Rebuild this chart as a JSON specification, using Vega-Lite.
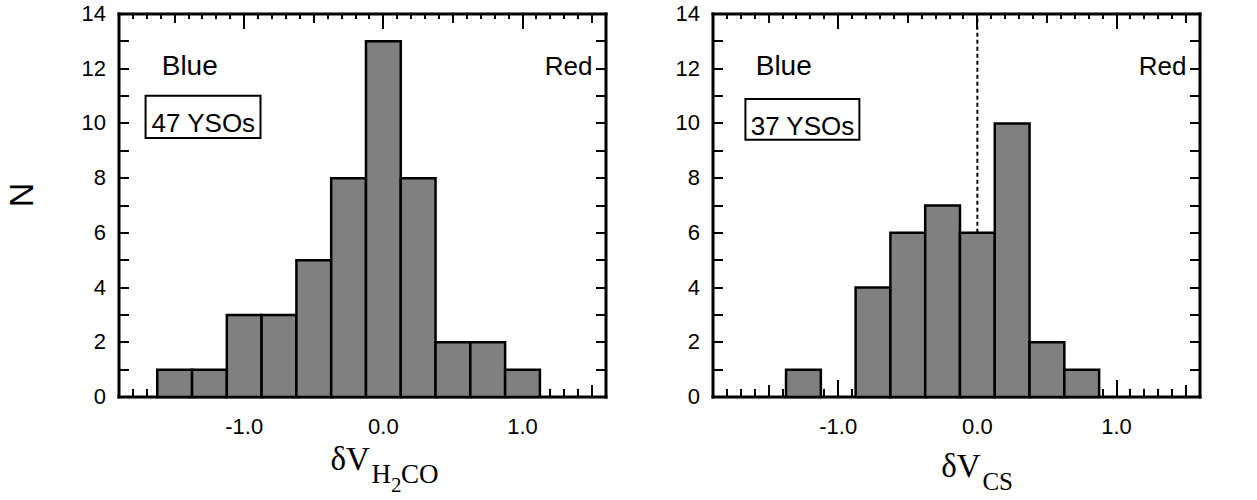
{
  "$schema": "https://vega.github.io/schema/vega-lite/v6.json",
  "padding": {"left": 6, "top": 3, "right": 5, "bottom": 0},
  "spacing": 68,
  "config": {
    "view": {"stroke": null},
    "axis": {"domainColor": "black", "domainWidth": 3, "domainCap": "square", "tickColor": "black", "tickWidth": 2, "translate": 0, "labelColor": "black", "labelFont": "Liberation Sans", "labelFontSize": 22, "grid": false, "labelFlush": false, "labelOverlap": false}
  },
  "datasets": {
    "h2co": [
      {"lo": -1.625, "hi": -1.375, "n": 1},
      {"lo": -1.375, "hi": -1.125, "n": 1},
      {"lo": -1.125, "hi": -0.875, "n": 3},
      {"lo": -0.875, "hi": -0.625, "n": 3},
      {"lo": -0.625, "hi": -0.375, "n": 5},
      {"lo": -0.375, "hi": -0.125, "n": 8},
      {"lo": -0.125, "hi": 0.125, "n": 13},
      {"lo": 0.125, "hi": 0.375, "n": 8},
      {"lo": 0.375, "hi": 0.625, "n": 2},
      {"lo": 0.625, "hi": 0.875, "n": 2},
      {"lo": 0.875, "hi": 1.125, "n": 1}
    ],
    "cs": [
      {"lo": -1.375, "hi": -1.125, "n": 1},
      {"lo": -0.875, "hi": -0.625, "n": 4},
      {"lo": -0.625, "hi": -0.375, "n": 6},
      {"lo": -0.375, "hi": -0.125, "n": 7},
      {"lo": -0.125, "hi": 0.125, "n": 6},
      {"lo": 0.125, "hi": 0.375, "n": 10},
      {"lo": 0.375, "hi": 0.625, "n": 2},
      {"lo": 0.625, "hi": 0.875, "n": 1}
    ],
    "lblB": [{"x": -1.593, "y": 11.78, "t": "Blue"}],
    "lblR": [{"x": 1.16, "y": 11.78, "t": "Red"}],
    "boxL": [{"x": -1.709, "x2": -0.883, "y": 11.01, "y2": 9.47}],
    "boxR": [{"x": -1.667, "x2": -0.848, "y": 10.89, "y2": 9.40}],
    "nL": [{"x": -1.294, "y": 9.675, "t": "47 YSOs"}],
    "nR": [{"x": -1.257, "y": 9.56, "t": "37 YSOs"}],
    "tL1": [{"x": -0.097, "y": -2.676, "t": "δV"}],
    "tL2": [{"x": -0.085, "y": -3.13, "t": "H"}, {"x": 0.126, "y": -3.13, "t": "CO"}],
    "tL3": [{"x": 0.054, "y": -3.47, "t": "2"}],
    "tR1": [{"x": 0.024, "y": -2.92, "t": "δV"}],
    "tR2": [{"x": 0.036, "y": -3.41, "t": "CS"}],
    "zero": [{"x": 0, "y": 6, "y2": 14}]
  },
  "hconcat": [
    {
      "width": 487, "height": 383,
      "resolve": {"axis": {"x": "independent", "y": "independent"}},
      "layer": [
        {
          "data": {"name": "h2co"},
          "mark": {"type": "bar", "fill": "#808080", "stroke": "black", "strokeWidth": 2.5},
          "encoding": {
            "x": {"field": "lo", "type": "quantitative", "scale": {"domain": [-1.9, 1.6], "nice": false, "zero": false},
              "axis": {"orient": "bottom", "values": [-1, 0, 1], "tickSize": -17, "labelPadding": 37, "labelExpr": "datum.value < 0 ? '-' + format(-datum.value, '.1f') : format(datum.value, '.1f')", "title": null}},
            "x2": {"field": "hi"},
            "y": {"field": "n", "type": "quantitative", "scale": {"domain": [0, 14], "nice": false},
              "axis": {"orient": "left", "values": [0,1,2,3,4,5,6,7,8,9,10,11,12,13,14], "tickSize": -10, "labelPadding": 23, "labelExpr": "datum.value % 2 == 0 ? format(datum.value, 'd') : ''", "title": "N", "titleFont": "Liberation Sans", "titleFontSize": 34, "titleFontWeight": "normal", "titleColor": "black", "titleX": -96, "titleY": 181, "titleAlign": "center", "titleBaseline": "middle"}},
            "y2": {"datum": 0}
          }
        },
        {
          "data": {"name": "lblB"},
          "mark": {"type": "text", "font": "Liberation Sans", "fontSize": 28, "align": "left", "baseline": "alphabetic", "color": "black"},
          "encoding": {
            "x": {"field": "x", "type": "quantitative", "scale": {"domain": [-1.9, 1.6], "nice": false, "zero": false},
              "axis": {"orient": "bottom", "values": [-1.8,-1.7,-1.6,-1.5,-1.4,-1.3,-1.2,-1.1,-1.0,-0.9,-0.8,-0.7,-0.6,-0.5,-0.4,-0.3,-0.2,-0.1,0,0.1,0.2,0.3,0.4,0.5,0.6,0.7,0.8,0.9,1.0,1.1,1.2,1.3,1.4,1.5], "tickSize": -8, "labels": false, "domain": false, "title": null}},
            "y": {"field": "y", "type": "quantitative", "scale": {"domain": [0, 14], "nice": false},
              "axis": {"orient": "right", "values": [0,1,2,3,4,5,6,7,8,9,10,11,12,13,14], "tickSize": -10, "labels": false, "title": null}},
            "text": {"field": "t"}
          }
        },
        {
          "data": {"name": "lblR"},
          "mark": {"type": "text", "font": "Liberation Sans", "fontSize": 26, "align": "left", "baseline": "alphabetic", "color": "black"},
          "encoding": {
            "x": {"field": "x", "type": "quantitative", "scale": {"domain": [-1.9, 1.6], "nice": false, "zero": false}, "axis": null},
            "y": {"field": "y", "type": "quantitative", "scale": {"domain": [0, 14], "nice": false}, "axis": null},
            "text": {"field": "t"}
          }
        },
        {
          "data": {"name": "boxL"},
          "mark": {"type": "rect", "filled": false, "stroke": "black", "strokeWidth": 2},
          "encoding": {
            "x": {"field": "x", "type": "quantitative", "scale": {"domain": [-1.9, 1.6], "nice": false, "zero": false},
              "axis": {"orient": "bottom", "values": [-1.5, -0.5, 0.5, 1.5], "tickSize": -12, "labels": false, "domain": false, "title": null}},
            "x2": {"field": "x2"},
            "y": {"field": "y", "type": "quantitative", "scale": {"domain": [0, 14], "nice": false}, "axis": null},
            "y2": {"field": "y2"}
          }
        },
        {
          "data": {"name": "nL"},
          "mark": {"type": "text", "font": "Liberation Sans", "fontSize": 26, "align": "center", "baseline": "alphabetic", "color": "black"},
          "encoding": {
            "x": {"field": "x", "type": "quantitative", "scale": {"domain": [-1.9, 1.6], "nice": false, "zero": false},
              "axis": {"orient": "top", "values": [-1, 0, 1], "tickSize": -15, "labels": false, "title": null}},
            "y": {"field": "y", "type": "quantitative", "scale": {"domain": [0, 14], "nice": false}, "axis": null},
            "text": {"field": "t"}
          }
        },
        {
          "data": {"name": "tL1"},
          "mark": {"type": "text", "font": "Liberation Serif", "fontSize": 33, "align": "right", "baseline": "alphabetic", "color": "black"},
          "encoding": {
            "x": {"field": "x", "type": "quantitative", "scale": {"domain": [-1.9, 1.6], "nice": false, "zero": false},
              "axis": {"orient": "top", "values": [-1.5, -0.5, 0.5, 1.5], "tickSize": -9, "labels": false, "domain": false, "title": null}},
            "y": {"field": "y", "type": "quantitative", "scale": {"domain": [0, 14], "nice": false}, "axis": null},
            "text": {"field": "t"}
          }
        },
        {
          "data": {"name": "tL2"},
          "mark": {"type": "text", "font": "Liberation Serif", "fontSize": 27, "align": "left", "baseline": "alphabetic", "color": "black"},
          "encoding": {
            "x": {"field": "x", "type": "quantitative", "scale": {"domain": [-1.9, 1.6], "nice": false, "zero": false},
              "axis": {"orient": "top", "values": [-1.8,-1.7,-1.6,-1.5,-1.4,-1.3,-1.2,-1.1,-1.0,-0.9,-0.8,-0.7,-0.6,-0.5,-0.4,-0.3,-0.2,-0.1,0,0.1,0.2,0.3,0.4,0.5,0.6,0.7,0.8,0.9,1.0,1.1,1.2,1.3,1.4,1.5], "tickSize": -5, "labels": false, "domain": false, "title": null}},
            "y": {"field": "y", "type": "quantitative", "scale": {"domain": [0, 14], "nice": false}, "axis": null},
            "text": {"field": "t"}
          }
        },
        {
          "data": {"name": "tL3"},
          "mark": {"type": "text", "font": "Liberation Serif", "fontSize": 21, "align": "left", "baseline": "alphabetic", "color": "black"},
          "encoding": {
            "x": {"field": "x", "type": "quantitative", "scale": {"domain": [-1.9, 1.6], "nice": false, "zero": false}, "axis": null},
            "y": {"field": "y", "type": "quantitative", "scale": {"domain": [0, 14], "nice": false}, "axis": null},
            "text": {"field": "t"}
          }
        }
      ]
    },
    {
      "width": 487, "height": 383,
      "resolve": {"axis": {"x": "independent", "y": "independent"}},
      "layer": [
        {
          "data": {"name": "zero"},
          "mark": {"type": "rule", "stroke": "black", "strokeWidth": 2, "strokeDash": [4, 3]},
          "encoding": {
            "x": {"field": "x", "type": "quantitative", "scale": {"domain": [-1.9, 1.6], "nice": false, "zero": false}, "axis": null},
            "y": {"field": "y", "type": "quantitative", "scale": {"domain": [0, 14], "nice": false}, "axis": null},
            "y2": {"field": "y2"}
          }
        },
        {
          "data": {"name": "cs"},
          "mark": {"type": "bar", "fill": "#808080", "stroke": "black", "strokeWidth": 2.5},
          "encoding": {
            "x": {"field": "lo", "type": "quantitative", "scale": {"domain": [-1.9, 1.6], "nice": false, "zero": false},
              "axis": {"orient": "bottom", "values": [-1, 0, 1], "tickSize": -17, "labelPadding": 37, "labelExpr": "datum.value < 0 ? '-' + format(-datum.value, '.1f') : format(datum.value, '.1f')", "title": null}},
            "x2": {"field": "hi"},
            "y": {"field": "n", "type": "quantitative", "scale": {"domain": [0, 14], "nice": false},
              "axis": {"orient": "left", "values": [0,1,2,3,4,5,6,7,8,9,10,11,12,13,14], "tickSize": -10, "labelPadding": 23, "labelExpr": "datum.value % 2 == 0 ? format(datum.value, 'd') : ''", "title": null}},
            "y2": {"datum": 0}
          }
        },
        {
          "data": {"name": "lblB"},
          "mark": {"type": "text", "font": "Liberation Sans", "fontSize": 28, "align": "left", "baseline": "alphabetic", "color": "black"},
          "encoding": {
            "x": {"field": "x", "type": "quantitative", "scale": {"domain": [-1.9, 1.6], "nice": false, "zero": false},
              "axis": {"orient": "bottom", "values": [-1.8,-1.7,-1.6,-1.5,-1.4,-1.3,-1.2,-1.1,-1.0,-0.9,-0.8,-0.7,-0.6,-0.5,-0.4,-0.3,-0.2,-0.1,0,0.1,0.2,0.3,0.4,0.5,0.6,0.7,0.8,0.9,1.0,1.1,1.2,1.3,1.4,1.5], "tickSize": -8, "labels": false, "domain": false, "title": null}},
            "y": {"field": "y", "type": "quantitative", "scale": {"domain": [0, 14], "nice": false},
              "axis": {"orient": "right", "values": [0,1,2,3,4,5,6,7,8,9,10,11,12,13,14], "tickSize": -10, "labels": false, "title": null}},
            "text": {"field": "t"}
          }
        },
        {
          "data": {"name": "lblR"},
          "mark": {"type": "text", "font": "Liberation Sans", "fontSize": 26, "align": "left", "baseline": "alphabetic", "color": "black"},
          "encoding": {
            "x": {"field": "x", "type": "quantitative", "scale": {"domain": [-1.9, 1.6], "nice": false, "zero": false}, "axis": null},
            "y": {"field": "y", "type": "quantitative", "scale": {"domain": [0, 14], "nice": false}, "axis": null},
            "text": {"field": "t"}
          }
        },
        {
          "data": {"name": "boxR"},
          "mark": {"type": "rect", "filled": false, "stroke": "black", "strokeWidth": 2},
          "encoding": {
            "x": {"field": "x", "type": "quantitative", "scale": {"domain": [-1.9, 1.6], "nice": false, "zero": false},
              "axis": {"orient": "bottom", "values": [-1.5, -0.5, 0.5, 1.5], "tickSize": -12, "labels": false, "domain": false, "title": null}},
            "x2": {"field": "x2"},
            "y": {"field": "y", "type": "quantitative", "scale": {"domain": [0, 14], "nice": false}, "axis": null},
            "y2": {"field": "y2"}
          }
        },
        {
          "data": {"name": "nR"},
          "mark": {"type": "text", "font": "Liberation Sans", "fontSize": 26, "align": "center", "baseline": "alphabetic", "color": "black"},
          "encoding": {
            "x": {"field": "x", "type": "quantitative", "scale": {"domain": [-1.9, 1.6], "nice": false, "zero": false},
              "axis": {"orient": "top", "values": [-1, 0, 1], "tickSize": -15, "labels": false, "title": null}},
            "y": {"field": "y", "type": "quantitative", "scale": {"domain": [0, 14], "nice": false}, "axis": null},
            "text": {"field": "t"}
          }
        },
        {
          "data": {"name": "tR1"},
          "mark": {"type": "text", "font": "Liberation Serif", "fontSize": 33, "align": "right", "baseline": "alphabetic", "color": "black"},
          "encoding": {
            "x": {"field": "x", "type": "quantitative", "scale": {"domain": [-1.9, 1.6], "nice": false, "zero": false},
              "axis": {"orient": "top", "values": [-1.5, -0.5, 0.5, 1.5], "tickSize": -9, "labels": false, "domain": false, "title": null}},
            "y": {"field": "y", "type": "quantitative", "scale": {"domain": [0, 14], "nice": false}, "axis": null},
            "text": {"field": "t"}
          }
        },
        {
          "data": {"name": "tR2"},
          "mark": {"type": "text", "font": "Liberation Serif", "fontSize": 25, "align": "left", "baseline": "alphabetic", "color": "black"},
          "encoding": {
            "x": {"field": "x", "type": "quantitative", "scale": {"domain": [-1.9, 1.6], "nice": false, "zero": false},
              "axis": {"orient": "top", "values": [-1.8,-1.7,-1.6,-1.5,-1.4,-1.3,-1.2,-1.1,-1.0,-0.9,-0.8,-0.7,-0.6,-0.5,-0.4,-0.3,-0.2,-0.1,0,0.1,0.2,0.3,0.4,0.5,0.6,0.7,0.8,0.9,1.0,1.1,1.2,1.3,1.4,1.5], "tickSize": -5, "labels": false, "domain": false, "title": null}},
            "y": {"field": "y", "type": "quantitative", "scale": {"domain": [0, 14], "nice": false}, "axis": null},
            "text": {"field": "t"}
          }
        }
      ]
    }
  ]
}
